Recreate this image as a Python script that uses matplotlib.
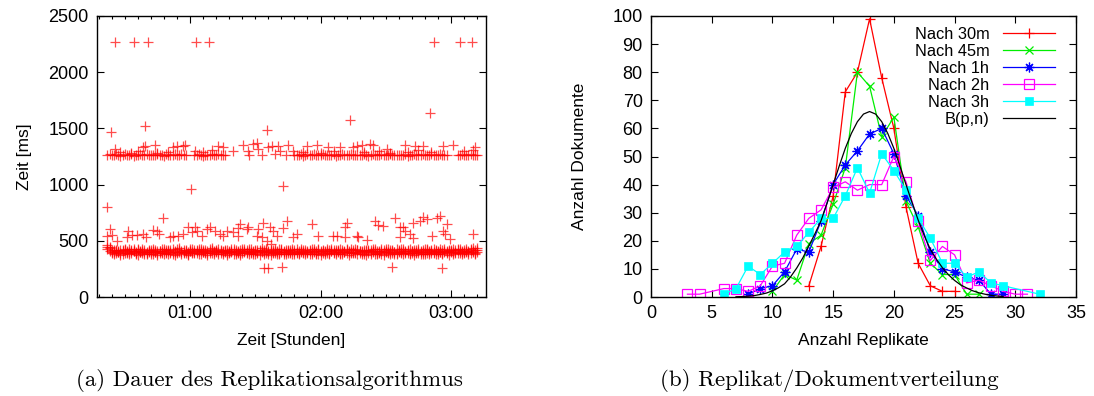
import matplotlib
matplotlib.use("Agg")
import matplotlib.pyplot as plt
from matplotlib.ticker import FixedLocator, FuncFormatter, MultipleLocator

plt.rcParams['font.family'] = ['Liberation Sans', 'DejaVu Sans']
plt.rcParams['font.size'] = 12.5

# ---------------- (a) data: time in minutes, duration in ms ----------------
low_t = [22, 23, 24, 25, 26, 27, 28, 29, 30, 31, 32, 33, 34, 35, 36, 37, 38, 39, 40, 41,
         42, 43, 44, 45, 46, 47, 48, 49, 50, 51, 52, 53, 54, 55, 56, 57, 58, 59, 60, 61,
         62, 63, 64, 65, 66, 67, 68, 69, 70, 71, 72, 73, 74, 75, 76, 77, 78, 79, 80, 81,
         82, 83, 84, 85, 86, 87, 88, 89, 90, 91, 92, 93, 94, 95, 96, 97, 98, 99, 100, 101,
         102, 103, 104, 105, 106, 107, 108, 109, 110, 111, 112, 113, 114, 115, 116, 117, 118, 119, 120, 121,
         122, 123, 124, 125, 126, 127, 128, 129, 130, 131, 132, 133, 134, 135, 136, 137, 138, 139, 140, 141,
         142, 143, 144, 145, 146, 147, 148, 149, 150, 151, 152, 153, 154, 155, 156, 157, 158, 159, 160, 161,
         162, 163, 164, 165, 166, 167, 168, 169, 170, 171, 172, 173, 174, 175, 176, 177, 178, 179, 180, 181,
         182, 183, 184, 185, 186, 187, 188, 189, 190, 191, 192]
low_a = [448, 432, 415, 402, 410, 396, 421, 405, 389, 412, 399, 418, 407, 393, 425, 401, 411, 386, 404, 419,
         397, 408, 422, 391, 413, 400, 384, 417, 406, 395, 428, 403, 390, 414, 409, 398, 420, 387, 411, 402,
         416, 394, 405, 426, 399, 388, 412, 407, 419, 396, 403, 431, 392, 410, 401, 415, 389, 408, 423, 397,
         404, 418, 391, 412, 400, 427, 395, 409, 385, 414, 406, 399, 421, 393, 411, 402, 417, 390, 408, 424,
         396, 413, 403, 388, 419, 407, 398, 425, 394, 410, 401, 416, 392, 405, 429, 399, 412, 387, 409, 420,
         402, 395, 418, 406, 391, 414, 400, 423, 397, 411, 389, 408, 426, 403, 393, 417, 405, 398, 421, 410,
         394, 415, 401, 387, 412, 407, 430, 396, 409, 399, 419, 392, 404, 425, 411, 390, 413, 402, 418, 395,
         406, 421, 398, 410, 386, 414, 403, 427, 397, 408, 393, 416, 401, 424, 390, 412, 405, 419, 396, 431,
         403, 414, 392, 409, 420, 399, 411, 426, 404, 417, 433]
low_b = [465, 441, 398, 417, 388, 409, 395, 380, 414, 401, 426, 392, 408, 381, 415, 398, 429, 403, 392, 410,
         418, 385, 402, 411, 393, 424, 405, 389, 420, 398, 383, 412, 427, 396, 404, 388, 413, 401, 425, 391,
         400, 422, 387, 411, 403, 419, 395, 428, 390, 407, 416, 384, 405, 398, 421, 392, 413, 400, 386, 417,
         409, 394, 426, 401, 388, 412, 404, 397, 420, 389, 415, 432, 398, 406, 386, 419, 393, 411, 402, 384,
         415, 399, 422, 408, 394, 385, 417, 401, 412, 427, 390, 404, 398, 420, 386, 411, 395, 424, 403, 389,
         413, 428, 391, 405, 419, 397, 410, 384, 416, 402, 425, 396, 388, 414, 400, 422, 391, 409, 383, 418,
         407, 398, 423, 411, 393, 401, 386, 415, 428, 392, 404, 410, 397, 383, 419, 400, 424, 395, 408, 429,
         391, 402, 417, 388, 412, 399, 425, 393, 410, 418, 402, 386, 413, 397, 421, 404, 389, 409, 422, 400,
         416, 393, 427, 401, 388, 412, 398, 422, 409, 395, 420]
low_c = [430, 405, 392, 383, 420, 401, 377, 416, 431, 395, 384, 407, 423, 398, 372, 413, 394, 420, 379, 398,
         385, 427, 396, 378, 409, 389, 431, 396, 381, 415, 404, 375, 398, 433, 386, 419, 392, 376, 405, 428,
         389, 407, 430, 381, 414, 398, 377, 390, 436, 383, 412, 396, 420, 385, 407, 378, 399, 428, 412, 383,
         392, 376, 409, 431, 415, 381, 424, 385, 407, 398, 378, 412, 386, 429, 397, 375, 404, 423, 381, 395,
         428, 384, 379, 417, 403, 431, 386, 392, 379, 399, 420, 386, 411, 379, 402, 423, 384, 415, 377, 407,
         385, 411, 379, 427, 398, 383, 421, 394, 383, 398, 417, 378, 404, 391, 425, 382, 412, 386, 400, 377,
         420, 383, 409, 425, 380, 392, 412, 378, 396, 424, 385, 418, 380, 392, 400, 426, 381, 411, 394, 383,
         412, 378, 395, 428, 400, 387, 379, 414, 384, 395, 427, 409, 380, 404, 386, 425, 397, 376, 410, 386,
         394, 428, 405, 383, 397, 426, 384, 394, 436, 381, 404]

up_t = [22, 23, 24, 25, 26, 27, 28, 29, 30, 31, 32, 33, 34, 35, 36, 37, 38, 39, 40, 41,
        42, 43, 44, 45, 46, 47, 48, 49, 50, 51, 52, 53, 54, 55, 56, 57, 58,
        62, 63, 64, 65, 66, 67, 68, 69, 70, 71, 72, 73, 74, 75, 76,
        87, 93, 99, 104,
        108, 109, 110, 111, 112, 113, 114, 115, 116, 117, 118, 119, 120, 121, 122, 123, 124, 125, 126, 127,
        128, 129, 130, 131, 132, 133, 134, 135, 136, 137, 138, 139, 140, 141, 142, 143, 144, 145, 146, 147,
        148, 149, 150, 151, 152, 153, 154, 155, 156, 157, 158, 159, 160, 161, 162, 163, 164, 165, 166, 167,
        168, 169, 170, 171, 172, 173, 174, 175, 176, 177, 178,
        183, 184, 185, 186, 187, 188, 189, 190, 191, 192]
up_v = [1262, 1268, 1259, 1265, 1271, 1263, 1257, 1266, 1270, 1261, 1264, 1269, 1258, 1266, 1262, 1272, 1260, 1265, 1268, 1263,
        1259, 1267, 1264, 1270, 1261, 1265, 1258, 1269, 1263, 1266, 1260, 1271, 1264, 1262, 1268, 1259, 1265,
        1266, 1261, 1270, 1263, 1258, 1267, 1264, 1260, 1269, 1265, 1262, 1271, 1259, 1266, 1263,
        1265, 1262, 1268, 1264,
        1260, 1266, 1263, 1270, 1258, 1265, 1268, 1261, 1264, 1271, 1259, 1266, 1262, 1269, 1264, 1260, 1267, 1263, 1270, 1258,
        1265, 1261, 1268, 1263, 1266, 1259, 1270, 1264, 1262, 1267, 1260, 1265, 1271, 1263, 1258, 1266, 1269, 1261, 1264, 1262,
        1268, 1260, 1265, 1263, 1270, 1259, 1266, 1262, 1267, 1264, 1261, 1269, 1258, 1265, 1263, 1271, 1260, 1266, 1262, 1268,
        1264, 1259, 1266, 1270, 1261, 1265, 1263, 1268, 1260, 1267, 1262,
        1265, 1261, 1268, 1263, 1266, 1259, 1270, 1264, 1262, 1267]

upx_t = [25.5, 38.5, 39.3, 43.9, 52.3, 53.9, 56.9, 57.7, 62.3, 73.0, 75.3, 79.9, 84.5, 86.8, 89.1,
         90.7, 91.4, 96.0, 97.6, 100.6, 101.4, 105.2, 107.5, 113.7, 118.3, 123.6, 129.0, 135.1,
         136.6, 138.9, 142.7, 144.3, 150.4, 158.9, 163.5, 167.3, 176.5, 181.1, 191.0,
         28, 33, 36, 45, 50, 66, 70, 112, 120, 126, 140, 147, 152, 160, 165, 171, 186, 190]
upx_v = [1317, 1331, 1346, 1355, 1331, 1340, 1343, 1355, 1296, 1343, 1331, 1296, 1352, 1296, 1361,
         1367, 1317, 1331, 1343, 1340, 1296, 1352, 1296, 1340, 1355, 1331, 1331, 1331,
         1343, 1355, 1361, 1355, 1317, 1355, 1343, 1340, 1340, 1355, 1331,
         1290, 1285, 1300, 1282, 1293, 1288, 1305, 1290, 1283, 1298, 1287, 1300, 1284, 1292, 1306, 1286, 1295, 1310]

mid_t = [23.1, 22.0, 24.3, 26.3, 31.6, 30.9, 33.2, 35.5, 38.5, 39.6, 43.1, 44.7, 47.7, 45.9, 50.8,
         52.3, 54.6, 56.9, 59.2, 60.8, 62.3, 63.1, 65.4, 67.7, 69.2, 71.5, 73.8, 75.3, 76.9, 79.9,
         81.9, 83.0, 82.2, 86.1, 86.8, 90.7, 91.4, 93.7, 93.0, 95.3, 97.0, 96.8, 98.3, 99.9, 104.5,
         102.9, 107.5, 109.1, 116.0, 119.0, 125.9, 127.4, 132.1, 131.3, 131.3, 136.6, 137.4, 141.2,
         145.1, 146.6, 148.9, 154.3, 156.6, 156.6, 158.1, 158.9, 161.2, 162.7, 162.7, 165.8, 167.3,
         168.9, 171.1, 173.4, 174.9, 176.5, 178.0, 177.2, 179.5, 190.0]
mid_v = [604, 547, 550, 497, 586, 530, 550, 553, 560, 530, 592, 590, 704, 562, 530,
         545, 540, 562, 621, 580, 627, 590, 547, 607, 620, 590, 560, 540, 590, 575,
         610, 651, 545, 607, 621, 545, 605, 657, 530, 500, 473, 621, 590, 545, 672,
         610, 530, 562, 651, 547, 547, 547, 657, 621, 530, 545, 530, 509,
         672, 645, 630, 707, 621, 530, 621, 590, 562, 657, 527, 680, 710,
         690, 547, 705, 725, 590, 651, 560, 518, 562]

out_t = [25.7, 34.4, 40.6, 62.6, 68.6, 172.3, 184.1, 189.5,
         21.7, 23.7, 39.3, 95.3, 133.6, 170.4, 60.5, 102.9,
         94.0, 95.7, 102.2, 153.0, 176.0]
out_v = [2265, 2265, 2265, 2265, 2265, 2265, 2265, 2265,
         800, 1470, 1524, 1488, 1574, 1633, 962, 991,
         257, 257, 266, 266, 257]

hour_ticks = [60, 120, 180]

# ---------------- (b) data ----------------
x_30m = [13, 14, 15, 16, 17, 18, 19, 20, 21, 22, 23, 24, 25]
y_30m = [4, 18, 36, 73, 80, 99, 78, 60, 32, 12, 4, 2, 2]
x_45m = [10, 11, 12, 13, 14, 15, 16, 17, 18, 19, 20, 21, 22, 23, 24, 25, 26, 27]
y_45m = [2, 8, 6, 19, 22, 33, 46, 80, 75, 57, 64, 34, 25, 12, 8, 8, 1, 1]
x_1h = [8, 9, 10, 11, 12, 13, 14, 15, 16, 17, 18, 19, 20, 21, 22, 23, 24, 25, 26, 27, 28, 29]
y_1h = [1, 3, 4, 9, 17, 16, 27, 40, 47, 52, 58, 60, 51, 36, 29, 16, 10, 9, 7, 6, 1, 1]
x_2h = [3, 4, 6, 7, 8, 9, 10, 11, 12, 13, 14, 15, 16, 17, 18, 19, 20, 21, 22, 23, 24, 25,
        26, 27, 28, 29, 30, 31]
y_2h = [1, 1, 3, 3, 2, 4, 11, 12, 22, 28, 31, 39, 41, 38, 40, 40, 50, 41, 27, 13, 18, 15,
        5, 6, 4, 2, 1, 1]
x_3h = [6, 7, 8, 9, 10, 11, 12, 13, 14, 15, 16, 17, 18, 19, 20, 21, 22, 23, 24, 25, 26,
        27, 28, 29, 32]
y_3h = [1, 3, 11, 8, 12, 16, 18, 23, 28, 28, 36, 46, 37, 51, 45, 38, 28, 21, 12, 12, 7,
        9, 5, 4, 1]
x_B = [7, 7.5, 8, 8.5, 9, 9.5, 10, 10.5, 11, 11.5, 12, 12.5, 13, 13.5, 14, 14.5, 15, 15.5,
       16, 16.5, 17, 17.5, 18, 18.5, 19, 19.5, 20, 20.5, 21, 21.5, 22, 22.5, 23, 23.5, 24,
       24.5, 25, 25.5, 26, 26.5, 27, 27.5, 28, 28.5, 29]
y_B = [0.08, 0.15, 0.3, 0.5, 0.9, 1.4, 2.2, 3.3, 4.7, 7.2, 10.3, 13.9, 18.2, 22.5, 27.1,
       33.4, 40.0, 46.6, 52.9, 58.2, 62.4, 65.1, 66.0, 65.1, 62.4, 58.2, 52.9, 46.6, 40.0,
       33.6, 27.4, 21.9, 17.0, 13.5, 10.4, 7.9, 5.9, 4.3, 3.2, 2.2, 1.5, 1.0, 0.6, 0.35, 0.2]
labels_b = ["Nach 30m", "Nach 45m", "Nach 1h", "Nach 2h", "Nach 3h", "B(p,n)"]

# ---------------- figure ----------------
fig = plt.figure(figsize=(10.94, 3.96), dpi=100)
W, H = 1094.0, 396.0
ax1 = fig.add_axes([97 / W, 1 - 297 / H, (486 - 97) / W, (297 - 16) / H])
ax2 = fig.add_axes([651 / W, 1 - 297 / H, (1076 - 651) / W, (297 - 16) / H])

red = '#ff0000'
pk = dict(linestyle='none', marker='+', color=red, markersize=6.5, mew=0.9, alpha=0.7)
ax1.plot(low_t, low_a, **pk)
ax1.plot(low_t, low_b, **pk)
ax1.plot(low_t, low_c, **pk)
ax1.plot(up_t, up_v, **pk)
ax1.plot(upx_t, upx_v, **pk)
ax1.plot(mid_t, mid_v, **pk)
ax1.plot(out_t, out_v, **pk)

ax1.set_xlim(17.2, 196.1)
ax1.set_ylim(0, 2500)
ax1.xaxis.set_major_locator(FixedLocator(hour_ticks))
ax1.xaxis.set_minor_locator(MultipleLocator(6))
ax1.xaxis.set_major_formatter(FuncFormatter(lambda v, p: "%02d:%02d" % (int(v // 60), int(v % 60))))
ax1.yaxis.set_major_locator(MultipleLocator(500))
ax1.set_xlabel("Zeit [Stunden]", labelpad=8)
ax1.set_ylabel("Zeit [ms]", labelpad=12)

# (b)
ax2.plot(x_30m, y_30m, color='#ff0000', lw=0.9, marker='+', markersize=7, mew=0.9, label=labels_b[0])
ax2.plot(x_45m, y_45m, color='#00ee00', lw=0.9, marker='x', markersize=6, mew=0.9, label=labels_b[1])
ax2.plot(x_1h, y_1h, color='#0000ff', lw=0.9, marker=(8, 2, 0), markersize=7, mew=0.9, label=labels_b[2])
ax2.plot(x_2h, y_2h, color='#ff00ff', lw=0.9, marker='s', markersize=7.5, mew=0.9,
         fillstyle='none', label=labels_b[3])
ax2.plot(x_3h, y_3h, color='#00ffff', lw=0.9, marker='s', markersize=6.3, mew=0.5, label=labels_b[4])
ax2.plot(x_B, y_B, color='black', lw=0.9, label=labels_b[5])
ax2.set_xlim(0, 35)
ax2.set_ylim(0, 100)
ax2.xaxis.set_major_locator(MultipleLocator(5))
ax2.yaxis.set_major_locator(MultipleLocator(10))
ax2.set_xlabel("Anzahl Replikate", labelpad=8)
ax2.set_ylabel("Anzahl Dokumente", labelpad=18)

leg = ax2.legend(loc='upper right', bbox_to_anchor=(1 - 21 / 425, 1 - 11 / 281), frameon=False,
                 markerfirst=False, numpoints=1, handlelength=3.2, handletextpad=0.8,
                 labelspacing=0.12, borderaxespad=0, borderpad=0, fontsize=11.8)
for vp in leg._legend_handle_box.get_children():
    vp.align = "right"

for ax in (ax1, ax2):
    ax.tick_params(which='both', direction='in', top=True, right=True, labelsize=13, pad=6)
    ax.tick_params(which='major', length=5, width=0.8)
    ax.tick_params(which='minor', length=2.5, width=0.8)
    for s in ax.spines.values():
        s.set_linewidth(1.0)

fig.text(269 / W, 1 - 380 / H, "(a) Dauer des Replikationsalgorithmus", ha='center', va='center',
         family='cmr10', fontsize=16.5)
fig.text(829 / W, 1 - 380 / H, "(b) Replikat/Dokumentverteilung", ha='center', va='center',
         family='cmr10', fontsize=16.5)

fig.savefig("out.png", dpi=100)
